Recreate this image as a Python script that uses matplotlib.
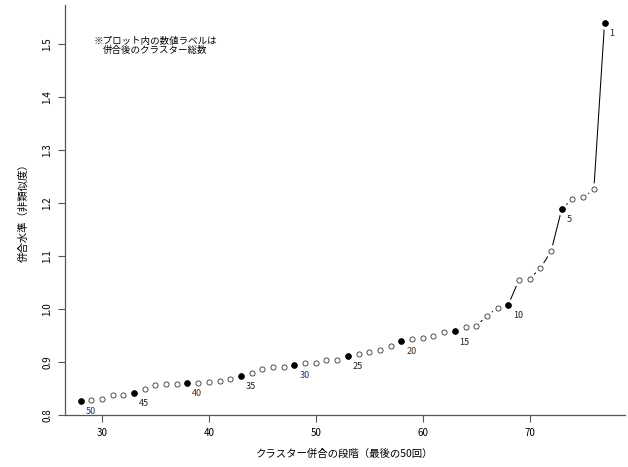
import numpy as np
import matplotlib
matplotlib.use("Agg")
import matplotlib.pyplot as plt

plt.rcParams['font.family'] = ['Noto Sans CJK JP', 'DejaVu Sans']

# merge step (last 50 merges) and merge height
steps = list(range(28, 78))
heights = [0.826, 0.828, 0.830, 0.837, 0.838, 0.842, 0.849, 0.857, 0.858, 0.858,
           0.860, 0.861, 0.862, 0.864, 0.868, 0.874, 0.879, 0.887, 0.891, 0.891,
           0.894, 0.898, 0.898, 0.904, 0.904, 0.911, 0.915, 0.919, 0.923, 0.930,
           0.940, 0.943, 0.945, 0.949, 0.957, 0.958, 0.966, 0.968, 0.987, 1.002,
           1.008, 1.055, 1.057, 1.077, 1.109, 1.189, 1.208, 1.211, 1.226, 1.540]
# highlighted steps and number of clusters after the merge
mark_steps = [28, 33, 38, 43, 48, 53, 58, 63, 68, 73, 77]
mark_labels = ["50", "45", "40", "35", "30", "25", "20", "15", "10", "5", "1"]
label_colors = ["#1f3566", "#222222", "#4a2e1a", "#222222", "#1f3566", "#222222",
                "#4a2e1a", "#222222", "#222222", "#222222", "#222222"]

x = np.array(steps)
y = np.array(heights)

fig = plt.figure(figsize=(6.28, 4.67), dpi=100)
ax = fig.add_axes([0.1035, 0.111, 0.8915, 0.878])

# R type="b": line with gaps around each point (white halo under the markers)
ax.plot(x, y, color="black", lw=0.75, zorder=1)
ax.plot(x, y, ls="none", marker="o", ms=8, mfc="white", mec="white", zorder=2)
ax.plot(x, y, ls="none", marker="o", ms=3.7, mfc="white", mec="#333333", mew=0.6, zorder=3)

idx = [steps.index(s) for s in mark_steps]
ax.plot(x[idx], y[idx], ls="none", marker="o", ms=3.7, mfc="black", mec="black", zorder=4)
for i, lab, c in zip(idx, mark_labels, label_colors):
    ax.annotate(lab, (x[i], y[i]), xytext=(3.5, -4.5), textcoords="offset points",
                ha="left", va="top", fontsize=6.5, color=c)

ax.text(35.0, 1.497, "※プロット内の数値ラベルは\n併合後のクラスター総数",
        ha="center", va="center", fontsize=6.8, linespacing=1.1)

ax.set_xlim(26.55, 78.9)
ax.set_ylim(0.7995, 1.574)

ax.set_xticks([30, 40, 50, 60, 70])
ax.set_yticks([0.8, 0.9, 1.0, 1.1, 1.2, 1.3, 1.4, 1.5])
ax.set_yticklabels(["0.8", "0.9", "1.0", "1.1", "1.2", "1.3", "1.4", "1.5"],
                   rotation=90, va="center")
ax.tick_params(axis="both", direction="out", length=5, width=0.8, color="#555555",
               labelsize=7, pad=4)

for s in ["top", "right"]:
    ax.spines[s].set_visible(False)
for s in ["left", "bottom"]:
    ax.spines[s].set_color("#555555")
    ax.spines[s].set_linewidth(0.9)

ax.set_xlabel("クラスター併合の段階（最後の50回）", fontsize=7.5, labelpad=8)
ax.set_ylabel("併合水準（非類似度）", fontsize=7.5, labelpad=10)

fig.savefig("out.png", dpi=100)
